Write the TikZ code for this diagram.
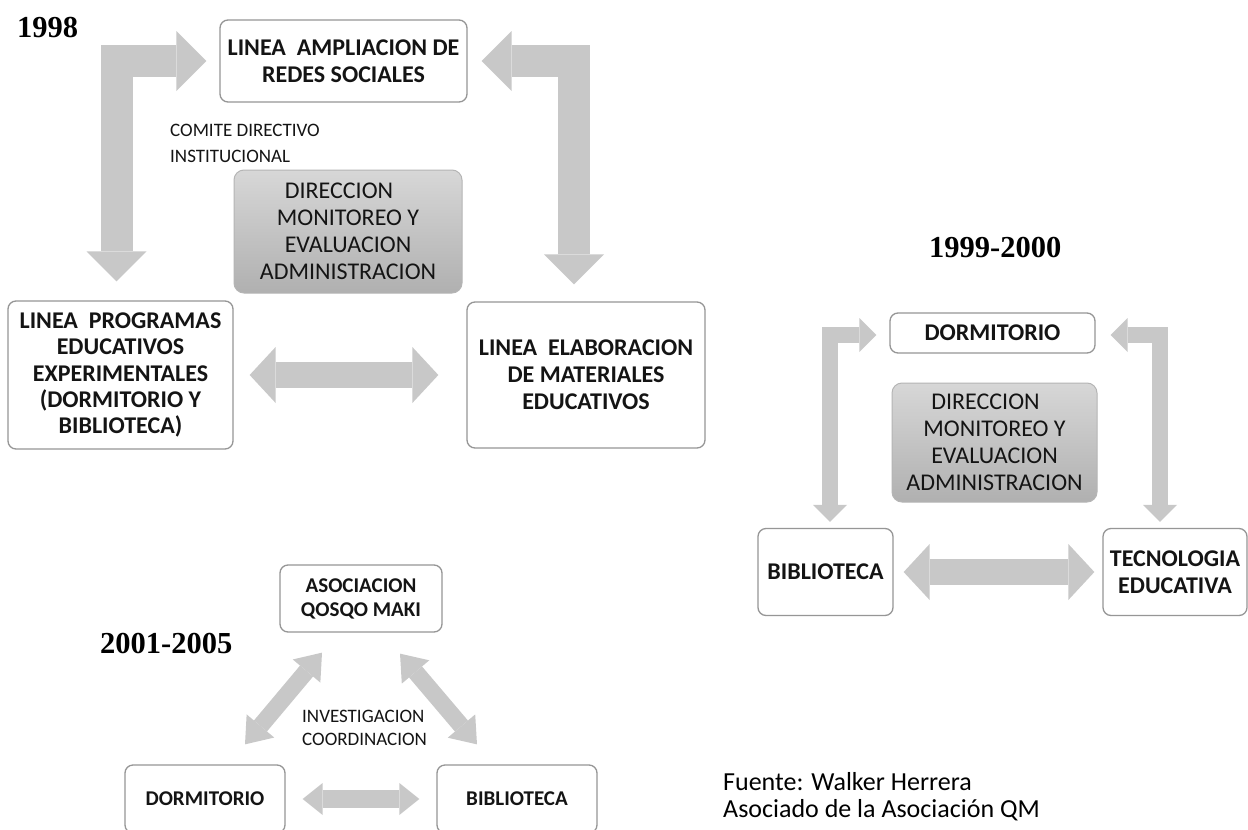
\documentclass[tikz,border=0pt]{standalone}
\usepackage{fontspec}
\setmainfont{Carlito}
\newfontfamily\yearfont{Liberation Serif}
\usetikzlibrary{arrows.meta,calc}
\definecolor{arrowgray}{RGB}{200,200,200}
\definecolor{boxborder}{RGB}{150,150,150}
\definecolor{txt}{RGB}{20,20,20}
\definecolor{graytop}{RGB}{215,215,215}
\definecolor{graybot}{RGB}{176,176,176}
\begin{document}
\begin{tikzpicture}[x=1pt,y=-1pt,
  box/.style={draw=boxborder, line width=1.3pt, rounded corners=8pt, fill=white, align=center, inner sep=0pt, text=txt, font=\bfseries\fontsize{24}{27}\selectfont},
  smallbox/.style={box, font=\bfseries\fontsize{21}{24}\selectfont},
  graybox/.style={draw=boxborder!70, line width=1pt, rounded corners=10pt, top color=graytop, bottom color=graybot, align=center, inner sep=0pt, text=txt, font=\fontsize{24}{27}\selectfont},
  label/.style={anchor=base west, inner sep=0pt, text=txt, font=\fontsize{19}{22}\selectfont},
  year/.style={anchor=base west, inner sep=0pt, text=black, font=\yearfont\bfseries\fontsize{30.5}{32}\selectfont},
  foot/.style={anchor=base west, inner sep=0pt, text=black, font=\fontsize{26}{28}\selectfont},
  bigarrow/.style={draw=arrowgray, line width=32pt, line join=miter, line cap=butt,
    {Triangle[width=60pt,length=30pt,line width=0pt]}-{Triangle[width=60pt,length=30pt,line width=0pt]}},
  wideflat/.style={draw=arrowgray, line width=26pt, line cap=butt,
    {Triangle[width=56pt,length=26pt,line width=0pt]}-{Triangle[width=56pt,length=26pt,line width=0pt]}},
  midarrow/.style={draw=arrowgray, line width=16pt, line join=miter, line cap=butt,
    {Triangle[width=34pt,length=17pt,line width=0pt]}-{Triangle[width=34pt,length=17pt,line width=0pt]}},
  diagarrow/.style={draw=arrowgray, line width=17pt, line cap=butt,
    {Triangle[width=36pt,length=24pt,line width=0pt]}-{Triangle[width=36pt,length=24pt,line width=0pt]}},
  smallarrow/.style={draw=arrowgray, line width=18pt, line cap=butt,
    {Triangle[width=32pt,length=20pt,line width=0pt]}-{Triangle[width=32pt,length=20pt,line width=0pt]}}
]
\clip (0,0) rectangle (1248,830);
\fill[white] (0,0) rectangle (1248,830);

% ---------- 1998 ----------
\node[year] (y1) at (17,37) {1998};
\node[box, minimum width=247pt, minimum height=82pt] (top) at (343.5,61) {LINEA\ \ AMPLIACION DE\\REDES SOCIALES};
\node[graybox, minimum width=228pt, minimum height=123pt] (dir1) at (348,231.5) {DIRECCION\hspace*{18pt}\\MONITOREO Y\\EVALUACION\\ADMINISTRACION};
\node[box, minimum width=225pt, minimum height=148pt, font=\bfseries\fontsize{24}{26.3}\selectfont] (lp) at (120.5,375) {LINEA\ \ PROGRAMAS\\EDUCATIVOS\\EXPERIMENTALES\\(DORMITORIO Y\\BIBLIOTECA)};
\node[box, minimum width=238pt, minimum height=146pt] (le) at (586,375) {LINEA\ \ ELABORACION\\DE MATERIALES\\EDUCATIVOS};
\node[label] (cdi) at (170,136) {COMITE DIRECTIVO};
\node[label] (ins) at (170,162) {INSTITUCIONAL};

\draw[bigarrow] ($(top.west)+(-13,0)$) -| ($(lp.north)+(-4,-19)$);
\draw[bigarrow] ($(top.east)+(14,0)$) -| ($(le.north)+(-12,-17)$);
\draw[wideflat] ($(lp.east)+(16,0)$) -- ($(le.west)+(-28,0)$);

% ---------- 1999-2000 ----------
\node[year] (y2) at (929,257) {1999-2000};
\node[box, minimum width=205pt, minimum height=40pt] (d2) at (992.5,333) {DORMITORIO};
\node[graybox, minimum width=205pt, minimum height=119pt] (dir2) at (994.5,442.5) {DIRECCION\hspace*{18pt}\\MONITOREO Y\\EVALUACION\\ADMINISTRACION};
\node[box, minimum width=135pt, minimum height=87pt] (b2) at (825.5,572) {BIBLIOTECA};
\node[box, minimum width=144pt, minimum height=87pt] (t2) at (1175,572) {TECNOLOGIA\\EDUCATIVA};

\draw[midarrow] ($(d2.west)+(-13,2)$) -| ($(b2.north)+(4.5,-6)$);
\draw[midarrow] ($(d2.east)+(15,2)$) -| ($(t2.north)+(-15,-6)$);
\draw[wideflat] ($(b2.east)+(10,0)$) -- ($(t2.west)+(-8,0)$);

% ---------- 2001-2005 ----------
\node[year] (y3) at (100,653) {2001-2005};
\node[smallbox, minimum width=162pt, minimum height=67pt] (asoc) at (361,598.5) {ASOCIACION\\QOSQO MAKI};
\node[smallbox, minimum width=160pt, minimum height=68pt] (d3) at (205,799) {DORMITORIO};
\node[smallbox, minimum width=160pt, minimum height=68pt] (b3) at (517,799) {BIBLIOTECA};
\node[label] (inv) at (302,722) {INVESTIGACION};
\node[label] (coo) at (302,745) {COORDINACION};

\draw[diagarrow] ($(d3.north)+(40,-20)$) -- ($(asoc.south)+(-39,20)$);
\draw[diagarrow] ($(asoc.south)+(39,21)$) -- ($(b3.north)+(-40,-20)$);
\draw[smallarrow] ($(d3.east)+(17,0)$) -- ($(b3.west)+(-17,0)$);

% ---------- source ----------
\node[foot] (f1) at (723,790) {Fuente: Walker Herrera};
\node[foot] (f2) at (723,817) {Asociado de la Asociación QM};
\end{tikzpicture}
\end{document}
